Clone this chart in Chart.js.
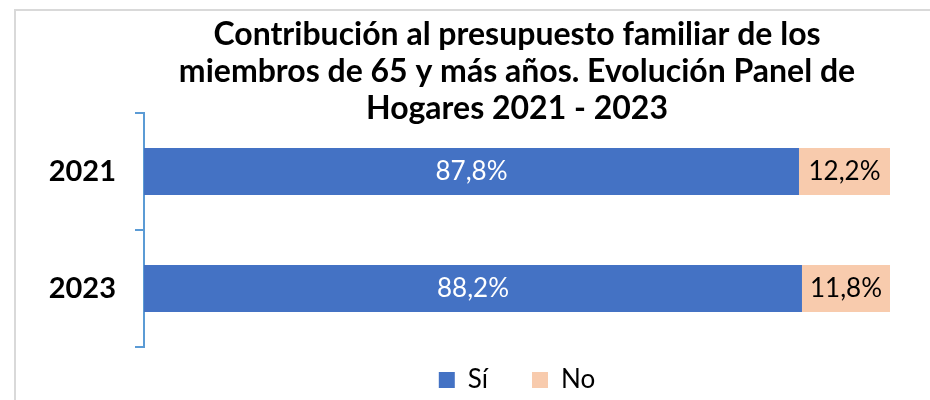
<!DOCTYPE html>
<html>
<head>
<meta charset="utf-8">
<script src="https://cdn.jsdelivr.net/npm/chart.js@4.4.1/dist/chart.umd.min.js"></script>
<style>
    body { margin: 0; background: #fff; }
    #wrap { position: relative; width: 930px; height: 400px; overflow: hidden; }
    #frame { position: absolute; left: 14px; top: 9px; width: 1000px; height: 500px; border: 2px solid #d9d9d9; }
    #chart { position: absolute; left: 0; top: 0; }
</style>
</head>
<body>
<div id="wrap">
    <div id="frame"></div>
    <canvas id="chart" width="930" height="400"></canvas>
</div>
<script>
// chart data
const years = ['2021', '2023'];
const siValues = [87.8, 88.2];
const noValues = [12.2, 11.8];
const titleLines = [
    'Contribución al presupuesto familiar de los',
    'miembros de 65 y más años. Evolución Panel de',
    'Hogares 2021 - 2023'
];

const FONT = 'Lato, "Noto Sans", sans-serif';

// writes the value inside each bar segment
const barLabels = {
    id: 'barLabels',
    afterDatasetsDraw(chart) {
        const ctx = chart.ctx;
        ctx.save();
        ctx.font = '26px ' + FONT;
        ctx.textAlign = 'center';
        ctx.textBaseline = 'middle';
        chart.data.datasets.forEach((ds, i) => {
            const meta = chart.getDatasetMeta(i);
            meta.data.forEach((bar, j) => {
                const x = (bar.x + bar.base) / 2;
                ctx.fillStyle = i === 0 ? '#ffffff' : '#000000';
                ctx.fillText(ds.data[j].toFixed(1).replace('.', ',') + '%', x, bar.y);
            });
        });
        ctx.restore();
    }
};

new Chart(document.getElementById('chart'), {
    type: 'bar',
    data: {
        labels: years,
        datasets: [
            { label: 'Sí', data: siValues, backgroundColor: '#4472C4' },
            { label: 'No', data: noValues, backgroundColor: '#F8CBAD' }
        ]
    },
    options: {
        indexAxis: 'y',
        responsive: false,
        animation: false,
        layout: { padding: { left: 0, right: 40, top: 0, bottom: -3 } },
        datasets: { bar: { barPercentage: 0.5, categoryPercentage: 0.8 } },
        scales: {
            x: {
                stacked: true,
                min: 0,
                max: 100,
                display: false
            },
            y: {
                stacked: true,
                afterFit: s => { s.width = 144; },
                border: { color: '#5B9BD5', width: 2 },
                grid: { drawOnChartArea: false, drawTicks: true, tickLength: 9, color: '#5B9BD5', lineWidth: 2 },
                ticks: { color: '#000', padding: 19, font: { family: FONT, size: 29, weight: 'bold' } }
            }
        },
        plugins: {
            title: {
                display: true,
                text: titleLines,
                fullSize: false,
                color: '#000',
                padding: { top: 16, bottom: -14 },
                font: { family: FONT, size: 32, weight: 'bold', lineHeight: 37 / 32 }
            },
            legend: {
                position: 'bottom',
                fullSize: false,
                // empty legend title with negative padding pulls the legend up against the bars
                title: { display: true, text: '', font: { size: 10, lineHeight: 1 }, padding: { top: -34, bottom: 0 } },
                labels: {
                    color: '#000',
                    boxWidth: 16,
                    boxHeight: 16,
                    padding: 44,
                    font: { family: FONT, size: 26 }
                }
            },
            tooltip: { enabled: false }
        }
    },
    plugins: [barLabels]
});
</script>
</body>
</html>
